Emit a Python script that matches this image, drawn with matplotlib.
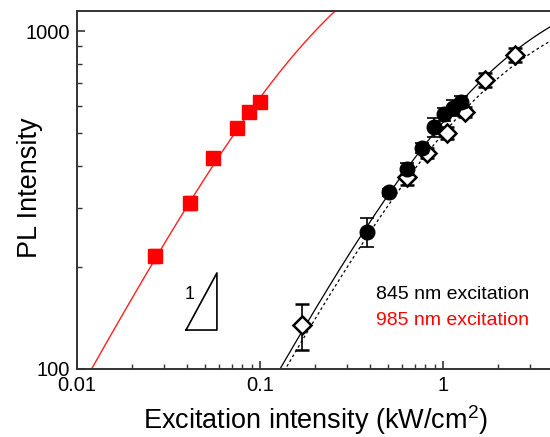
import numpy as np
import matplotlib
matplotlib.use("Agg")
import matplotlib.pyplot as plt
from matplotlib.ticker import LogLocator, NullFormatter, FixedLocator, FixedFormatter

plt.rcParams['font.family'] = ['Liberation Sans', 'DejaVu Sans']
plt.rcParams['mathtext.fontset'] = 'custom'
plt.rcParams['mathtext.rm'] = 'Liberation Sans'
plt.rcParams['mathtext.it'] = 'Liberation Sans:italic'

# ---- data ----
red_x = [0.0267, 0.0414, 0.0553, 0.0748, 0.0871, 0.100]
red_y = [216, 310, 421, 516, 576, 616]
red_err = [10, 14, 18, 20, 22, 25]

circ_x = [0.385, 0.507, 0.636, 0.768, 0.893, 1.012, 1.134, 1.254]
circ_y = [254, 334, 391, 451, 520, 568, 592, 617]
circ_err = [25, 8, 16, 15, 33, 25, 33, 27]

dia_x = [0.170, 0.636, 0.818, 1.052, 1.318, 1.697, 2.474]
dia_y = [135, 370, 435, 499, 576, 716, 849]
dia_err = [21, 20, 15, 20, 20, 35, 40]

# saturation fits: y = A*x/(1+x/xs)
fit_red = (8700.0, 0.27)
fit_solid = (832.6, 1.82)
fit_dotted = (785.0, 1.72)

x_ticks = [0.01, 0.1, 1]
x_ticklabels = ['0.01', '0.1', '1']
y_ticks = [100, 1000]
y_ticklabels = ['100', '1000']

label_845 = '845 nm excitation'
label_985 = '985 nm excitation'

def sat(x, p):
    A, xs = p
    return A * x / (1 + x / xs)

fig = plt.figure(figsize=(5.5, 4.37), dpi=100)
ax = fig.add_axes([77/550, 68/437, 473/550, 358/437])
ax.set_xscale('log')
ax.set_yscale('log')
ax.set_xlim(0.01, 3.84)
ax.set_ylim(100, 1146)

xx = np.logspace(-2.1, 0.7, 400)
ax.plot(xx, sat(xx, fit_red), color='#ff2020', lw=1.0, zorder=2)
ax.plot(xx, sat(xx, fit_solid), color='black', lw=0.9, zorder=2)
ax.plot(xx, sat(xx, fit_dotted), color='black', lw=0.9, ls=(0, (2.2, 2.2)), zorder=2)

ax.errorbar(red_x, red_y, yerr=red_err, fmt='s', color='red', ms=10,
            capsize=3.5, elinewidth=1, capthick=1, zorder=4)
ax.errorbar(dia_x, dia_y, yerr=dia_err, fmt='D', mfc='white', mec='black',
            mew=1.8, ms=9.5, ecolor='black', capsize=5, elinewidth=1.2,
            capthick=1.2, zorder=3)
ax.errorbar(circ_x, circ_y, yerr=circ_err, fmt='o', color='black', ms=10.5,
            capsize=5, elinewidth=1.2, capthick=1.2, zorder=4)

# slope-1 triangle
tri_x0, tri_y0, tri_span = 0.0394, 130.4, 0.169
tx1 = tri_x0 * 10**tri_span
ty1 = tri_y0 * 10**tri_span
ax.plot([tri_x0, tx1, tx1, tri_x0], [tri_y0, tri_y0, ty1, tri_y0],
        color='black', lw=1.2, zorder=3)
ax.text(0.0385, 166, '1', fontsize=13, ha='left', va='center')

ax.text(0.431, 165.6, label_845, fontsize=14, color='black', ha='left', va='center')
ax.text(0.431, 139.6, label_985, fontsize=14, color='red', ha='left', va='center')

ax.xaxis.set_major_locator(FixedLocator(x_ticks))
ax.xaxis.set_major_formatter(FixedFormatter(x_ticklabels))
ax.xaxis.set_minor_locator(LogLocator(base=10, subs=np.arange(2, 10)))
ax.xaxis.set_minor_formatter(NullFormatter())
ax.yaxis.set_major_locator(FixedLocator(y_ticks))
ax.yaxis.set_major_formatter(FixedFormatter(y_ticklabels))
ax.yaxis.set_minor_locator(LogLocator(base=10, subs=np.arange(2, 10)))
ax.yaxis.set_minor_formatter(NullFormatter())

ax.tick_params(which='both', direction='in', top=False, right=False,
               labelsize=14.5, color='#333333')
ax.tick_params(which='major', length=6, width=1.2, pad=5)
ax.tick_params(which='minor', length=3.5, width=1.0)

for s in ['left', 'bottom', 'top']:
    ax.spines[s].set_linewidth(1.4)
    ax.spines[s].set_color('#333333')
ax.spines['right'].set_visible(False)

ax.set_xlabel('Excitation intensity (kW/cm$^2$)', fontsize=19.5)
ax.xaxis.label.set_va('center')
ax.xaxis.set_label_coords((316 - 77) / 473, (369 - 420) / 358)
ax.set_ylabel('PL Intensity', fontsize=19.5)
ax.yaxis.label.set_va('center')
ax.yaxis.set_label_coords((30 - 77) / 473, (369 - 188) / 358)

fig.savefig('out.png', dpi=100)
